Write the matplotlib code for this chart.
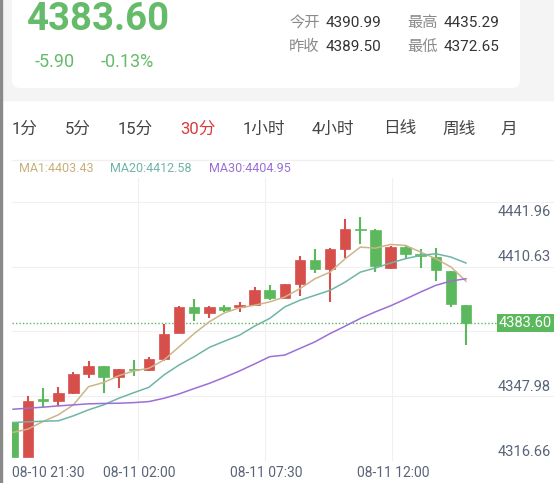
import matplotlib
matplotlib.use("Agg")
import matplotlib.pyplot as plt
from matplotlib.patches import Rectangle, FancyBboxPatch

plt.rcParams['font.family'] = ['Roboto', 'Noto Sans CJK SC', 'DejaVu Sans']

# 30-minute candles
opens  = [4335.3, 4318.6, 4346.5, 4345.9, 4349.4, 4358.6, 4362.8, 4357.1, 4361.3, 4360.5,
          4365.8, 4378.7, 4390.9, 4388.3, 4391.2, 4390.9, 4392.1, 4399.2, 4395.7, 4402.4,
          4413.7, 4409.7, 4419.3, 4429.1, 4428.4, 4410.1, 4420.1, 4416.7, 4415.3, 4408.5, 4392.3]
closes = [4318.6, 4345.7, 4345.9, 4349.4, 4358.6, 4362.6, 4357.1, 4361.2, 4360.7, 4366.0,
          4378.3, 4390.9, 4388.3, 4390.9, 4389.6, 4392.0, 4399.2, 4395.5, 4402.1, 4413.7,
          4409.7, 4419.3, 4429.1, 4428.4, 4410.8, 4420.1, 4416.6, 4415.8, 4408.9, 4392.5, 4383.6]
highs  = [4335.3, 4348.1, 4352.0, 4352.5, 4359.7, 4365.0, 4362.8, 4361.2, 4365.5, 4366.8,
          4383.0, 4391.7, 4395.0, 4391.8, 4392.0, 4393.6, 4400.8, 4401.9, 4402.4, 4415.8,
          4419.0, 4419.8, 4433.7, 4434.9, 4428.8, 4420.4, 4420.9, 4419.3, 4419.8, 4408.5, 4392.3]
lows   = [4318.6, 4318.6, 4343.0, 4343.5, 4349.0, 4357.0, 4349.7, 4352.0, 4357.8, 4360.2,
          4365.2, 4378.7, 4384.4, 4385.7, 4388.9, 4388.6, 4392.1, 4394.7, 4395.4, 4396.5,
          4407.6, 4393.6, 4414.6, 4421.7, 4408.0, 4409.7, 4414.5, 4410.0, 4403.6, 4391.0, 4372.7]
ma1  = [4330.5, 4332.1, 4335.8, 4339.0, 4343.8, 4352.6, 4354.6, 4357.9, 4360.2, 4361.5,
        4365.5, 4371.9, 4378.3, 4384.0, 4388.3, 4390.7, 4392.0, 4393.6, 4396.0, 4400.0,
        4404.8, 4408.0, 4414.5, 4420.1, 4419.6, 4421.4, 4420.9, 4417.7, 4414.5, 4410.5, 4403.6]
ma20 = [4335.3, 4335.6, 4335.9, 4336.1, 4338.5, 4341.4, 4343.8, 4347.0, 4349.7, 4352.3,
        4358.3, 4363.1, 4367.1, 4371.6, 4374.6, 4377.5, 4381.9, 4385.6, 4391.2, 4394.4,
        4396.8, 4399.2, 4403.2, 4408.0, 4410.0, 4412.4, 4414.5, 4416.1, 4416.9, 4415.3, 4412.4]
ma30 = [4341.7, 4342.2, 4342.7, 4343.3, 4343.8, 4344.3, 4344.5, 4344.6, 4344.9, 4345.4,
        4347.0, 4349.1, 4351.7, 4354.2, 4357.1, 4360.2, 4363.6, 4367.1, 4367.9, 4371.1,
        4374.3, 4378.3, 4381.9, 4385.6, 4388.8, 4391.7, 4395.0, 4398.4, 4401.6, 4403.7, 4404.8]
y_ticks = [4441.96, 4410.63, 4379.31, 4347.98, 4316.66]
x_labels = ["08-10 21:30", "08-11 02:00", "08-11 07:30", "08-11 12:00"]
last_price = 4383.60
tabs = ["1分", "5分", "15分", "30分", "1小时", "4小时", "日线", "周线", "月"]

W, H = 554, 483
RED, GREEN = "#d64f4b", "#5cb85c"
fig = plt.figure(figsize=(W / 100, H / 100), dpi=100)
fig.patch.set_facecolor("white")

def fx(px):
    return px / W

def fy(py):
    return 1 - py / H

# header background + card
bg = fig.add_axes([0, 0, 1, 1], zorder=-5)
bg.set_xlim(0, W); bg.set_ylim(H, 0); bg.axis("off")
bg.add_patch(Rectangle((0, 0), W, 100, color="#f4f4f4"))
bg.add_patch(FancyBboxPatch((12, -20), 508, 108, boxstyle="round,pad=0,rounding_size=8",
                            fc="white", ec="none"))
bg.add_patch(Rectangle((0, 0), 2, H, color="#8a8a8a"))
bg.plot([12, W], [160, 160], color="#f0f0f0", lw=1)

fig.text(fx(27), fy(20), "4383.60", fontsize=27.5, color="#66bb6a", weight="bold", va="center")
fig.text(fx(35), fy(62), "-5.90", fontsize=13, color="#66bb6a", va="center")
fig.text(fx(101), fy(62), "-0.13%", fontsize=13, color="#66bb6a", va="center")
info = [(289, 23, "今开", "4390.99"), (407, 23, "最高", "4435.29"),
        (289, 47, "昨收", "4389.50"), (407, 47, "最低", "4372.65")]
for x, y, k, v in info:
    fig.text(fx(x), fy(y), k, fontsize=11, color="#8a8a8a", va="center")
    fig.text(fx(x + 37), fy(y), v, fontsize=11, color="#333333", va="center")

tab_x = [12, 65, 118, 180, 243, 312, 383, 442, 500]
for x, t in zip(tab_x, tabs):
    fig.text(fx(x), fy(129), t, fontsize=12, va="center",
             color="#d63b3b" if t == "30分" else "#444444")

fig.text(fx(19), fy(169), "MA1:4403.43", fontsize=9, color="#c8b07a", va="center")
fig.text(fx(110), fy(169), "MA20:4412.58", fontsize=9, color="#6fb5a6", va="center")
fig.text(fx(209), fy(169), "MA30:4404.95", fontsize=9, color="#9b6fd6", va="center")

# chart area: pixel x = 13 + 15.1*i, pixel y 202 -> 4441.96, 2.075 px per point
left_px, right_px, top_px, bot_px = 12, 554, 178, 461
ax = fig.add_axes([fx(left_px), fy(bot_px), fx(right_px - left_px), (bot_px - top_px) / H])
step = 15.1
ax.set_xlim((left_px - 13) / step, (right_px - 13) / step)
ax.set_ylim(4316.66, 4441.96 + (202 - top_px) / 2.075)
ax.axis("off")

for yv in y_ticks:
    ax.axhline(yv, color="#f0f0f0", lw=0.8, zorder=0)
for gx in [138, 265, 392]:
    ax.axvline((gx - 13) / step, color="#f0f0f0", lw=0.8, zorder=0)

for i, (o, c, h, l) in enumerate(zip(opens, closes, highs, lows)):
    col = RED if c >= o else GREEN
    ax.plot([i, i], [l, h], color=col, lw=1.5, zorder=2, solid_capstyle="butt")
    ax.add_patch(Rectangle((i - 0.35, min(o, c)), 0.7, max(abs(c - o), 0.4),
                           fc=col, ec=col, lw=0.5, zorder=3))

xs = list(range(len(opens)))
ax.plot(xs, ma1, color="#cdb58a", lw=1.1, zorder=4)
ax.plot(xs, ma20, color="#6fb5a6", lw=1.1, zorder=4)
ax.plot(xs, ma30, color="#9b6fd6", lw=1.1, zorder=4)
ax.axhline(last_price, color=GREEN, lw=1, ls=(0, (1, 1.5)), zorder=1)

for yv in y_ticks:
    fig.text(fx(551), fy(202 + (4441.96 - yv) * 2.075) + (-0.006 if yv == y_ticks[0] else 0.006),
             "%.2f" % yv, fontsize=10.5, color="#5a6478", ha="right",
             va="top" if yv == y_ticks[0] else "bottom")
fig.text(fx(552), fy(202 + (4441.96 - last_price) * 2.075), "%.2f" % last_price,
         fontsize=10.5, color="white", ha="right", va="center",
         bbox=dict(boxstyle="square,pad=0.12", fc=GREEN, ec="none"))

for x, t in zip([12, 103, 230, 357], x_labels):
    fig.text(fx(x), fy(473), t, fontsize=10, color="#5a6478", va="center")

fig.savefig("out.png", dpi=100)
